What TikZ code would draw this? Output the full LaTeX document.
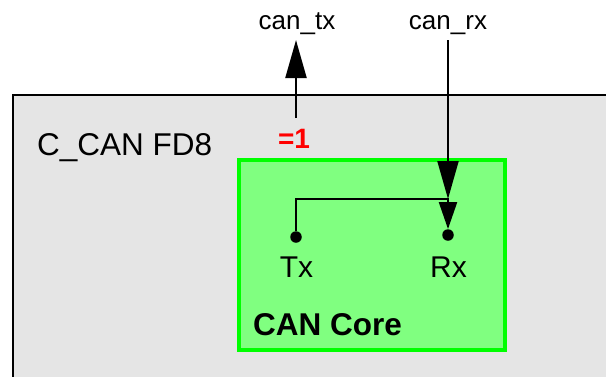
\documentclass[tikz,border=0pt]{standalone}
\usepackage{fontspec}
\setmainfont{Liberation Sans}
\usetikzlibrary{arrows.meta}
\definecolor{ShellGray}{HTML}{E5E5E5}
\definecolor{CoreFill}{HTML}{80FF80}
\definecolor{CoreEdge}{HTML}{00FF00}
\definecolor{TieRed}{HTML}{FF0000}

\begin{document}
\begin{tikzpicture}[x=1pt,y=-1pt,
    shell/.style={rectangle,draw,fill=ShellGray,line width=2pt,
                  minimum width=627pt,minimum height=325pt,inner sep=0pt},
    core/.style={rectangle,draw=CoreEdge,fill=CoreFill,line width=4pt,
                 minimum width=266pt,minimum height=190pt,inner sep=0pt},
    txt/.style={font=\fontsize{30}{36}\selectfont,inner sep=0pt},
    ltxt/.style={font=\fontsize{31.5}{38}\selectfont,inner sep=0pt},
    btxt/.style={font=\fontsize{31.5}{38}\selectfont\bfseries,inner sep=0pt},
    portlbl/.style={font=\fontsize{26}{31}\selectfont,inner sep=0pt,anchor=base},
    pin/.style={circle,fill,inner sep=0pt,minimum size=11.5pt},
    arr/.style={-{Triangle[length=38pt,width=21pt]},line width=2.2pt},
    iarr/.style={-{Triangle[length=27pt,width=18pt]},line width=2.2pt},
  ]
  \useasboundingbox (0,0) rectangle (606,376);
  \clip (0,0) rectangle (606,376);

  \node[shell] (ccan) at (326.5,257.5) {};
  \node[ltxt,anchor=base west] (ccanlbl) at (37,155) {C\_CAN FD8};

  \node[core] (core) at (372,255) {};
  \node[btxt,anchor=base west] (corelbl) at (253,335) {CAN Core};

  \node[pin] (txpin) at (296,237) {};
  \node[pin] (rxpin) at (448,235) {};
  \node[txt,anchor=base] (txlbl) at (296.5,277) {Tx};
  \node[txt,anchor=base] (rxlbl) at (448.5,277) {Rx};

  \node[portlbl] (cantx) at (297,29) {can\_tx};
  \node[portlbl] (canrx) at (448,29) {can\_rx};
  \node[font=\fontsize{28}{34}\selectfont\bfseries,text=TieRed,inner sep=0pt,
        anchor=base] (tieone) at (294,148) {=1};

  \coordinate (txout) at (296,118);
  \coordinate (txend) at (296,40);
  \coordinate (rxstart) at (448,40);
  \coordinate (jn) at (448,199);

  \draw[arr] (txout) -- (txend);
  \draw[arr] (rxstart) -- (jn);
  \draw[iarr] (txpin) |- (jn) -- (rxpin);
\end{tikzpicture}
\end{document}
